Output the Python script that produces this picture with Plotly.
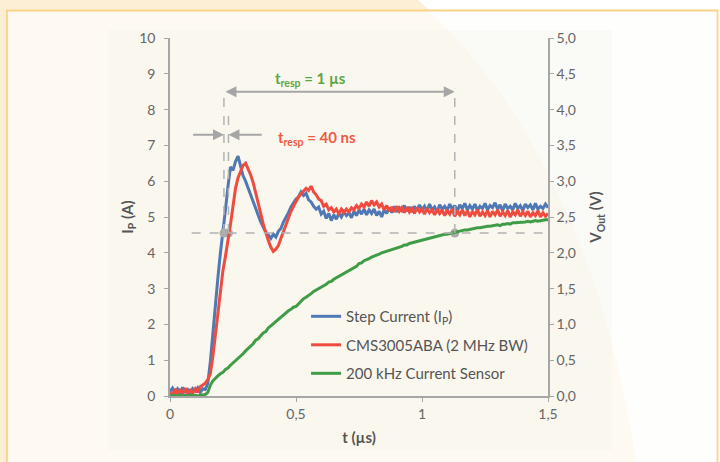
import plotly.graph_objects as go

# ---------------- data ----------------
t_us = [round(i * 0.01, 2) for i in range(151)]

step_current_A = [
    0.12, 0.22, 0.08, 0.20, 0.10, 0.24, 0.12, 0.18, 0.06, 0.21,
    0.14, 0.23, 0.10, 0.20, 0.18, 0.35, 0.95, 1.80, 2.60, 3.30,
    4.00, 4.55, 5.20, 5.85, 6.40, 6.30, 6.55, 6.70, 6.40, 6.15,
    6.00, 5.80, 5.62, 5.42, 5.22, 5.02, 4.86, 4.72, 4.58, 4.50,
    4.40, 4.52, 4.44, 4.60, 4.68, 4.86, 4.98, 5.12, 5.28, 5.38,
    5.50, 5.56, 5.70, 5.60, 5.66, 5.48, 5.42, 5.30, 5.22, 5.28,
    5.08, 5.16, 4.96, 5.10, 4.90, 5.06, 4.94, 5.10, 5.00, 5.14,
    5.04, 5.12, 4.98, 5.16, 5.04, 5.20, 5.08, 5.22, 5.06, 5.20,
    5.10, 5.22, 5.04, 5.16, 5.00, 5.20, 5.10, 5.26, 5.12, 5.30,
    5.14, 5.26, 5.18, 5.32, 5.16, 5.28, 5.14, 5.30, 5.18, 5.34,
    5.20, 5.30, 5.16, 5.36, 5.20, 5.28, 5.14, 5.34, 5.22, 5.30,
    5.18, 5.36, 5.22, 5.32, 5.16, 5.34, 5.24, 5.38, 5.20, 5.32,
    5.22, 5.36, 5.18, 5.30, 5.24, 5.38, 5.20, 5.32, 5.26, 5.40,
    5.22, 5.34, 5.18, 5.36, 5.24, 5.30, 5.20, 5.38, 5.24, 5.32,
    5.18, 5.36, 5.26, 5.34, 5.20, 5.38, 5.22, 5.30, 5.24, 5.36,
    5.26,
]

cms3005aba_V = [
    0.05, 0.02, 0.10, 0.025, 0.08, 0.04, 0.11, 0.025, 0.08, 0.04,
    0.10, 0.05, 0.13, 0.15, 0.18, 0.23, 0.31, 0.55, 0.85, 1.20,
    1.50, 1.75, 1.95, 2.15, 2.40, 2.65, 2.90, 3.05, 3.15, 3.22,
    3.25, 3.18, 3.09, 2.98, 2.85, 2.70, 2.55, 2.40, 2.28, 2.17,
    2.08, 2.02, 2.05, 2.10, 2.20, 2.30, 2.40, 2.50, 2.58, 2.65,
    2.72, 2.78, 2.82, 2.86, 2.90, 2.87, 2.93, 2.85, 2.81, 2.75,
    2.73, 2.65, 2.68, 2.60, 2.63, 2.57, 2.61, 2.55, 2.61, 2.56,
    2.61, 2.57, 2.63, 2.60, 2.66, 2.62, 2.68, 2.64, 2.71, 2.65,
    2.73, 2.67, 2.71, 2.64, 2.68, 2.60, 2.66, 2.58, 2.64, 2.57,
    2.65, 2.58, 2.63, 2.56, 2.64, 2.57, 2.62, 2.55, 2.63, 2.57,
    2.61, 2.54, 2.62, 2.56, 2.60, 2.53, 2.61, 2.55, 2.60, 2.52,
    2.59, 2.54, 2.61, 2.51, 2.58, 2.53, 2.60, 2.52, 2.59, 2.50,
    2.58, 2.53, 2.60, 2.51, 2.57, 2.52, 2.59, 2.50, 2.58, 2.53,
    2.60, 2.51, 2.57, 2.52, 2.59, 2.50, 2.57, 2.53, 2.60, 2.51,
    2.57, 2.52, 2.58, 2.50, 2.56, 2.52, 2.59, 2.50, 2.56, 2.51,
    2.55,
]

sensor_200khz_V = [
    0.01, 0.00, 0.01, 0.00, 0.01, 0.00, 0.01, 0.00, 0.01, 0.00,
    0.01, 0.00, 0.01, 0.01, 0.02, 0.05, 0.15, 0.21, 0.25, 0.28,
    0.31, 0.33, 0.37, 0.39, 0.43, 0.46, 0.49, 0.53, 0.55, 0.59,
    0.63, 0.66, 0.70, 0.73, 0.78, 0.80, 0.84, 0.88, 0.90, 0.95,
    0.98, 1.01, 1.04, 1.08, 1.10, 1.13, 1.16, 1.19, 1.21, 1.24,
    1.25, 1.29, 1.32, 1.36, 1.38, 1.40, 1.43, 1.46, 1.48, 1.50,
    1.51, 1.54, 1.56, 1.59, 1.60, 1.63, 1.65, 1.68, 1.69, 1.71,
    1.73, 1.75, 1.78, 1.80, 1.81, 1.85, 1.86, 1.89, 1.90, 1.92,
    1.94, 1.95, 1.97, 1.98, 2.00, 2.01, 2.02, 2.04, 2.05, 2.06,
    2.06, 2.08, 2.09, 2.11, 2.11, 2.13, 2.14, 2.15, 2.16, 2.17,
    2.17, 2.18, 2.20, 2.20, 2.22, 2.22, 2.24, 2.24, 2.25, 2.26,
    2.26, 2.27, 2.28, 2.28, 2.30, 2.30, 2.31, 2.32, 2.32, 2.33,
    2.34, 2.34, 2.35, 2.35, 2.36, 2.36, 2.37, 2.37, 2.38, 2.38,
    2.39, 2.38, 2.40, 2.40, 2.41, 2.40, 2.42, 2.42, 2.42, 2.43,
    2.42, 2.43, 2.44, 2.43, 2.44, 2.45, 2.44, 2.45, 2.45, 2.46,
    2.46,
]

series_names = ["Step Current (I<sub>P</sub>)", "CMS3005ABA (2 MHz BW)", "200 kHz Current Sensor"]

# response-time markers (t in µs, current level in A)
half_level_A = 4.55
cross_times = [0.214, 0.232, 1.13]
arrow_level_1us = 8.5
arrow_level_40ns = 7.3

x_tickvals = [0, 0.5, 1, 1.5]
x_ticktext = ["0", "0,5", "1", "1,5"]
y_tickvals = list(range(11))
y2_tickvals = [0, 0.5, 1, 1.5, 2, 2.5, 3, 3.5, 4, 4.5, 5]
y2_ticktext = ["0,0", "0,5", "1,0", "1,5", "2,0", "2,5", "3,0", "3,5", "4,0", "4,5", "5,0"]

# ---------------- styling ----------------
W, H = 720, 462
ML, MR, MT, MB = 170, 172, 38, 66
PW, PH = W - ML - MR, H - MT - MB

def px(xp):
    return (xp - ML) / PW

def py(yp):
    return (H - MB - yp) / PH

FONT = "Lato"
GRAY = "#a6a6a6"
TXT = "#666666"
TITLE = "#555555"
BLUE = "#4f79b5"
RED = "#ef4b3f"
GREEN = "#3f9c47"

fig = go.Figure()

fig.add_trace(go.Scatter(x=t_us, y=step_current_A, mode="lines", name=series_names[0],
                         line=dict(color=BLUE, width=3), legendgroup="a"))
fig.add_trace(go.Scatter(x=t_us, y=cms3005aba_V, mode="lines", name=series_names[1],
                         line=dict(color=RED, width=3), yaxis="y2", legendgroup="b"))
fig.add_trace(go.Scatter(x=t_us, y=sensor_200khz_V, mode="lines", name=series_names[2],
                         line=dict(color=GREEN, width=3), yaxis="y2", legendgroup="c"))

# gray crossing markers
fig.add_trace(go.Scatter(x=cross_times, y=[half_level_A] * 3, mode="markers",
                         marker=dict(color="#ababab", size=9), showlegend=False, hoverinfo="skip"))

shapes = []

def pstr(pts):
    s = "M {:.4f},{:.4f}".format(px(pts[0][0]), py(pts[0][1]))
    for p in pts[1:]:
        if len(p) == 6:
            s += " C {:.4f},{:.4f} {:.4f},{:.4f} {:.4f},{:.4f}".format(
                px(p[0]), py(p[1]), px(p[2]), py(p[3]), px(p[4]), py(p[5]))
        else:
            s += " L {:.4f},{:.4f}".format(px(p[0]), py(p[1]))
    return s + " Z"

shapes.append(dict(type="path", xref="paper", yref="paper", layer="below",
                   path=pstr([(0, 0), (418, 0), (520, 90, 605, 250, 636, 462), (0, 462)]),
                   fillcolor="#fdefd5", line=dict(width=0)))
shapes.append(dict(type="rect", xref="paper", yref="paper", layer="below",
                   x0=px(7), x1=px(717), y0=py(11), y1=py(462),
                   fillcolor="#fefefd", line=dict(width=0)))
shapes.append(dict(type="path", xref="paper", yref="paper", layer="below",
                   path=pstr([(7, 11), (428, 11), (522, 95, 605, 250, 636, 462), (7, 462)]),
                   fillcolor="#fefaf1", line=dict(width=0)))
shapes.append(dict(type="rect", xref="paper", yref="paper", layer="below",
                   x0=px(108), x1=px(612), y0=py(30), y1=py(450),
                   fillcolor="rgba(236,236,228,0.22)", line=dict(width=0)))
shapes.append(dict(type="rect", xref="paper", yref="paper", layer="below",
                   x0=px(7), x1=px(717.5), y0=py(10.5), y1=py(470),
                   fillcolor="rgba(0,0,0,0)", line=dict(color="#f9d487", width=1.8)))

dash = dict(color="#b3b3b3", width=1.5, dash="dash")
shapes.append(dict(type="line", xref="x", yref="y", x0=0.086, x1=1.5,
                   y0=half_level_A, y1=half_level_A, line=dash))
shapes.append(dict(type="line", xref="x", yref="y", x0=cross_times[0], x1=cross_times[0],
                   y0=half_level_A, y1=arrow_level_1us + 0.08, line=dash))
shapes.append(dict(type="line", xref="x", yref="y", x0=cross_times[1], x1=cross_times[1],
                   y0=half_level_A, y1=7.85, line=dash))
shapes.append(dict(type="line", xref="x", yref="y", x0=cross_times[2], x1=cross_times[2],
                   y0=half_level_A, y1=arrow_level_1us + 0.08, line=dash))

annotations = []
arrow_common = dict(xref="x", yref="y", axref="x", ayref="y", text="", showarrow=True,
                    arrowcolor="#a6a6a6", arrowwidth=2, arrowhead=2, arrowsize=1.1)
annotations.append(dict(x=cross_times[2], y=arrow_level_1us, ax=cross_times[0], ay=arrow_level_1us,
                        arrowside="end+start", **arrow_common))
annotations.append(dict(x=cross_times[0], y=arrow_level_40ns, ax=0.086, ay=arrow_level_40ns, **arrow_common))
annotations.append(dict(x=cross_times[1], y=arrow_level_40ns, ax=0.37, ay=arrow_level_40ns, **arrow_common))

annotations.append(dict(x=0.556, y=8.86, xref="x", yref="y", showarrow=False,
                        text="<b>t<sub>resp</sub> = 1 µs</b>",
                        font=dict(family=FONT, size=15, color="#5aa845")))
annotations.append(dict(x=0.585, y=7.22, xref="x", yref="y", showarrow=False,
                        text="<b>t<sub>resp</sub> = 40 ns</b>",
                        font=dict(family=FONT, size=15, color="#ef5a45")))

axis_common = dict(showgrid=False, zeroline=False, showline=True, linecolor=GRAY, linewidth=1.5,
                   ticks="outside", ticklen=4, tickcolor=GRAY, tickwidth=1.2,
                   tickfont=dict(family=FONT, size=14, color=TXT))

fig.update_layout(
    width=W, height=H,
    margin=dict(l=ML, r=MR, t=MT, b=MB),
    paper_bgcolor="#ffffff",
    plot_bgcolor="rgba(0,0,0,0)",
    font=dict(family=FONT, color=TXT),
    xaxis=dict(range=[0, 1.5], tickvals=x_tickvals, ticktext=x_ticktext,
               title=dict(text="<b>t (µs)</b>", font=dict(family=FONT, size=15, color=TITLE), standoff=12),
               **axis_common),
    yaxis=dict(range=[0, 10], tickvals=y_tickvals, ticklabelstandoff=6,
               title=dict(text="<b>I<sub>P</sub> (A)</b>", font=dict(family=FONT, size=15, color=TITLE), standoff=2),
               **axis_common),
    yaxis2=dict(range=[0, 5], tickvals=y2_tickvals, ticktext=y2_ticktext, overlaying="y", side="right",
                title=dict(text="<b>V<sub>Out</sub> (V)</b>", font=dict(family=FONT, size=15, color=TITLE), standoff=16),
                **axis_common),
    legend=dict(x=0.36, y=0.268, xanchor="left", yanchor="top", bgcolor="rgba(0,0,0,0)",
                font=dict(family=FONT, size=15, color="#555555"), tracegroupgap=6,
                traceorder="grouped"),
    shapes=shapes,
    annotations=annotations,
)

fig.write_html("out.html", config={"displayModeBar": False},
               post_script="document.body.style.margin='0px';")
